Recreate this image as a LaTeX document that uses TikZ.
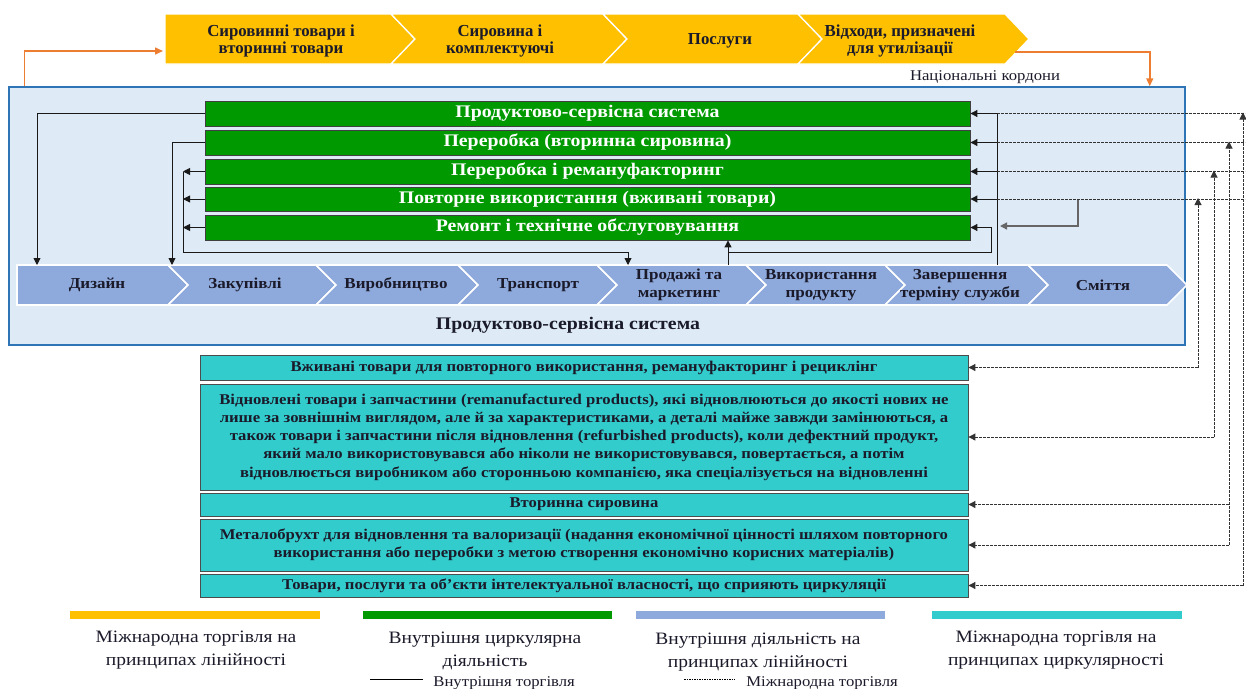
\documentclass[tikz,border=0pt]{standalone}
\usepackage{fontspec}
\setmainfont{Liberation Serif}
\newfontfamily\wideserif[FakeStretch=1.12]{Liberation Serif}
\usetikzlibrary{arrows.meta,calc}
\definecolor{yel}{HTML}{FFC000}
\definecolor{grn}{HTML}{009900}
\definecolor{blu}{HTML}{8EA9DB}
\definecolor{tea}{HTML}{33CCCC}
\definecolor{bgc}{HTML}{DEEAF6}
\definecolor{bord}{HTML}{2E75B6}
\definecolor{orng}{HTML}{ED7D31}
\definecolor{ink}{HTML}{1A1A2A}
\begin{document}
\begin{tikzpicture}[x=1pt,y=-1pt,
  tip/.style={-{Triangle[length=7pt,width=7pt]}},
  otip/.style={-{Triangle[length=8pt,width=7pt]}},
  ln/.style={draw=black!90,line width=0.9pt},
  lng/.style={draw=black!60,line width=1.3pt},
  dsh/.style={draw=black!80,line width=0.9pt,dash pattern=on 2.6pt off 1.4pt},
  gbox/.style={draw=black!75,fill=grn,line width=0.8pt,minimum width=765pt,minimum height=25pt,inner sep=0pt,text=white,font=\wideserif\bfseries\fontsize{17.7}{19}\selectfont},
  tbox/.style={draw=black!70,fill=tea,line width=0.8pt,minimum width=768pt,inner sep=0pt,text=ink,align=center,font=\wideserif\bfseries\fontsize{14.9}{18.2}\selectfont},
  ylab/.style={text=ink,align=center,inner sep=0pt,font=\bfseries\fontsize{16.8}{16.5}\selectfont},
  blab/.style={text=ink,align=center,inner sep=0pt,minimum height=40pt,font=\wideserif\bfseries\fontsize{15.2}{18}\selectfont},
  yseg/.style={fill=yel,draw=white,line width=1.3pt},
  bseg/.style={fill=blu,draw=white,line width=1.6pt},
  leg/.style={text=ink,align=center,inner sep=0pt,font=\wideserif\fontsize{17.4}{23.5}\selectfont},
  legs/.style={text=ink,inner sep=0pt,font=\wideserif\fontsize{14.9}{16}\selectfont}
]
\useasboundingbox (0,0) rectangle (1246,688);

% yellow chevrons
\path[yseg] (165,14) -- (391,14) -- (415,39) -- (391,64) -- (165,64) -- cycle;
\path[yseg] (391,14) -- (603,14) -- (627,39) -- (603,64) -- (391,64) -- (415,39) -- cycle;
\path[yseg] (603,14) -- (798,14) -- (822,39) -- (798,64) -- (603,64) -- (627,39) -- cycle;
\path[yseg] (798,14) -- (1005,14) -- (1029,39) -- (1005,64) -- (798,64) -- (822,39) -- cycle;
\node[ylab] (y1) at (281,41) {Сировинні товари і\\вторинні товари};
\node[ylab] (y2) at (500,41) {Сировина і\\комплектуючі};
\node[ylab] (y3) at (720,41) {Послуги};
\node[ylab] (y4) at (900,41) {Відходи, призначені\\для утилізації};
\coordinate (yw) at (163,51);
\coordinate (ye) at (1015,52);

% national box
\node[draw=bord,fill=bgc,line width=1.5pt,minimum width=1176pt,minimum height=258pt,inner sep=0pt] (nat) at (597,216) {};
\node[text=ink,inner sep=0pt,font=\wideserif\fontsize{14.9}{16}\selectfont] (natl) at (985,77) {Національні кордони};

% orange arrows
\draw[orng,line width=1.5pt,otip] ($(nat.north west)+(16,0)$) |- (yw);
\draw[orng,line width=1.5pt,otip] (ye) -| ($(nat.north east)+(-36,0)$);

% green boxes
\node[gbox] (g1) at (587.5,113.5) {Продуктово-сервісна система};
\node[gbox] (g2) at (587.5,142.5) {Переробка (вторинна сировина)};
\node[gbox] (g3) at (587.5,171.5) {Переробка і ремануфакторинг};
\node[gbox,minimum height=24pt] (g4) at (587.5,199) {Повторне використання (вживані товари)};
\node[gbox] (g5) at (587.5,227.5) {Ремонт і технічне обслуговування};

% blue chevrons
\path[bseg] (17,265) -- (168,265) -- (188,285) -- (168,305) -- (17,305) -- cycle;
\foreach \a/\b in {168/316,316/458,458/597,597/746,746/885,885/1028,1028/1167}{
  \path[bseg] (\a,265) -- (\b,265) -- (\b+20,285) -- (\b,305) -- (\a,305) -- (\a+20,285) -- cycle;
}
\node[blab,minimum width=151pt] (b1) at (97,285) {Дизайн};
\node[blab,minimum width=148pt] (b2) at (245,285) {Закупівлі};
\node[blab,minimum width=142pt] (b3) at (396,285) {Виробництво};
\node[blab,minimum width=139pt] (b4) at (538,285) {Транспорт};
\node[blab,minimum width=149pt] (b5) at (679,285) {Продажі та\\маркетинг};
\node[blab,minimum width=139pt] (b6) at (821,285) {Використання\\продукту};
\node[blab,minimum width=143pt] (b7) at (960,285) {Завершення\\терміну служби};
\node[blab,minimum width=139pt] (b8) at (1103,285) {Сміття};
\node[text=ink,inner sep=0pt,font=\wideserif\bfseries\fontsize{17.7}{18}\selectfont] (pss) at (568,325) {Продуктово-сервісна система};

% internal connectors (left)
\coordinate (c1) at (37,265);
\coordinate (c2) at (172,265);
\coordinate (c5) at (628,265);
\draw[ln,tip] (g1.west) -| (c1);
\draw[ln,tip] (g2.west) -| (c2);
\coordinate (busL) at (183,252);
\foreach \g in {g3,g4,g5}{ \draw[ln,tip] (\g.west) -- (\g.west -| busL); }
\draw[ln,tip] (g3.west -| busL) -- (busL) -| (c5);
\coordinate (up) at (728,265);
\draw[ln,tip] (up) -- (up |- g5.south);
\coordinate (lp) at (728,252);
\draw[ln,tip] (lp) -- ++(263,0) |- (g5.east);

% internal connectors (right)
\coordinate (rb) at (997,265);
\draw[ln] (rb) -- (rb |- g1.east);
\foreach \g in {g1,g2,g3,g4}{ \draw[ln,tip] (rb |- \g.east) -- (\g.east); }
\coordinate (br) at (1078,0);
\draw[lng,tip] (br |- g4.east) -- ++(0,27) -- ++(-78,0);

% teal boxes
\node[tbox,minimum height=25pt] (t1) at (584,367.5) {Вживані товари для повторного використання, ремануфакторинг і рециклінг};
\node[tbox,minimum height=106pt] (t2) at (584,437) {Відновлені товари і запчастини (remanufactured products), які відновлюються до якості нових не\\лише за зовнішнім виглядом, але й за характеристиками, а деталі майже завжди замінюються, а\\також товари і запчастини після відновлення (refurbished products), коли дефектний продукт,\\який мало використовувався або ніколи не використовувався, повертається, а потім\\відновлюється виробником або сторонньою компанією, яка спеціалізується на відновленні};
\node[tbox,minimum height=23pt] (t3) at (584,504.5) {Вторинна сировина};
\node[tbox,minimum height=52pt] (t4) at (584,545) {Металобрухт для відновлення та валоризації (надання економічної цінності шляхом повторного\\використання або переробки з метою створення економічно корисних матеріалів)};
\node[tbox,minimum height=23pt] (t5) at (584,585.5) {Товари, послуги та об’єкти інтелектуальної власності, що сприяють циркуляції};

% international (dashed) connectors
\coordinate (rx) at (1245,0);
\foreach \g in {g1,g2,g3,g4}{ \draw[dsh] (rb |- \g.east) -- (rx |- \g.east); }
\coordinate (v1) at (1243,0);
\coordinate (v2) at (1229,0);
\coordinate (v3) at (1214,0);
\coordinate (v4) at (1198,0);
\draw[dsh,tip] (v1 |- t5.east) -- ($(v1 |- g1.east)+(0,-1)$);
\draw[dsh,tip] (v2 |- t4.east) -- ($(v2 |- g2.east)+(0,-1)$);
\draw[dsh,tip] (v3 |- t2.east) -- ($(v3 |- g3.east)+(0,-1)$);
\draw[dsh,tip] (v4 |- t1.east) -- ($(v4 |- g4.east)+(0,-1)$);
\draw[dsh,tip] (v4 |- t1.east) -- (t1.east);
\draw[dsh,tip] (v3 |- t2.east) -- (t2.east);
\draw[dsh,tip] (v2 |- t3.east) -- (t3.east);
\draw[dsh,tip] (v2 |- t4.east) -- (t4.east);
\draw[dsh,tip] (v1 |- t5.east) -- (t5.east);

% legend
\fill[yel] (70,611) rectangle (320,619);
\fill[grn] (363,611) rectangle (612,619);
\fill[blu] (636,611) rectangle (885,619);
\fill[tea] (932,611) rectangle (1182,619);
\node[leg] (l1) at (196,650) {Міжнародна торгівля на\\принципах лінійності};
\node[leg] (l2) at (485,651) {Внутрішня циркулярна\\діяльність};
\node[leg] (l3) at (758,652) {Внутрішня діяльність на\\принципах лінійності};
\node[leg] (l4) at (1056,650) {Міжнародна торгівля на\\принципах циркулярності};
\coordinate (s1) at (370,679);
\draw[black,line width=0.8pt] (s1) -- ++(53,0) node[legs,anchor=west,xshift=10pt,yshift=-4pt] (ls1) {Внутрішня торгівля};
\coordinate (s2) at (684,679);
\draw[black,line width=0.7pt,dash pattern=on 1.5pt off 1pt] (s2) -- ++(51,0) node[legs,anchor=west,xshift=11pt,yshift=-4pt] (ls2) {Міжнародна торгівля};
\end{tikzpicture}
\end{document}
